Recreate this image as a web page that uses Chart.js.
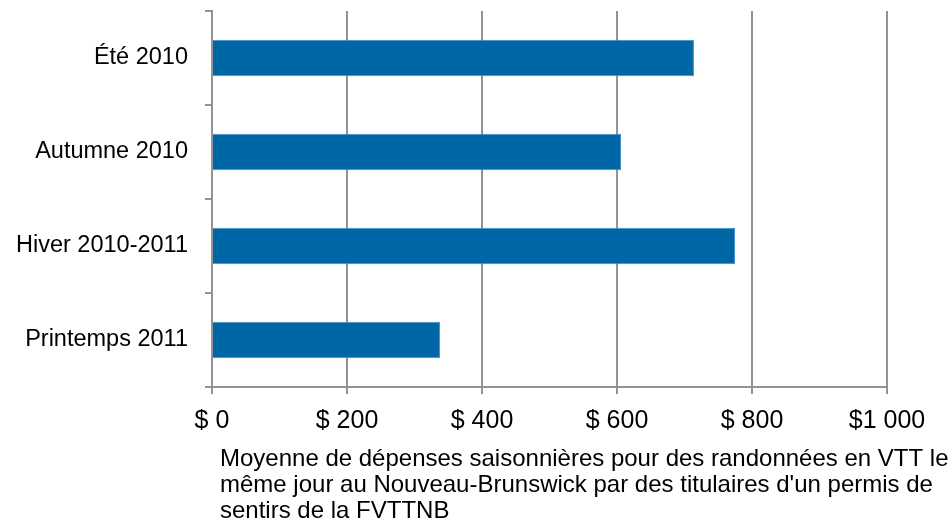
<!DOCTYPE html>
<html>
<head>
<meta charset="utf-8">
<script src="https://cdn.jsdelivr.net/npm/chart.js@4/dist/chart.umd.min.js"></script>
<style>
html,body{margin:0;padding:0;background:#fff;}
#wrap{position:relative;width:951px;height:523px;}
</style>
</head>
<body>
<div id="wrap"><canvas id="c" width="951" height="523"></canvas></div>
<script>
const categories = ['Été 2010', 'Autumne 2010', 'Hiver 2010-2011', 'Printemps 2011'];
const spending = [714, 606, 775, 338];
const tickLabels = ['$ 0', '$ 200', '$ 400', '$ 600', '$ 800', '$1 000'];
const captionLines = [
  'Moyenne de dépenses saisonnières pour des randonnées en VTT le',
  "même jour au Nouveau-Brunswick par des titulaires d'un permis de",
  'sentirs de la FVTTNB'
];

const FONT = "'Liberation Sans', Arial, sans-serif";
const GRID = '#939393';

const captionPlugin = {
  id: 'caption',
  afterDraw(chart) {
    const ctx = chart.ctx;
    const a = chart.chartArea;
    ctx.save();
    ctx.fillStyle = '#000';
    ctx.font = '24px ' + FONT;
    ctx.textAlign = 'left';
    ctx.textBaseline = 'alphabetic';
    captionLines.forEach((t, i) => ctx.fillText(t, a.left + 8, a.bottom + 79 + i * 26));
    ctx.restore();
  }
};

new Chart(document.getElementById('c'), {
  type: 'bar',
  data: {
    labels: categories,
    datasets: [{
      data: spending,
      backgroundColor: '#0067A7',
      borderColor: '#3F8DC6',
      borderWidth: 1,
      borderSkipped: 'start',
      barPercentage: 0.39,
      categoryPercentage: 1
    }]
  },
  options: {
    indexAxis: 'y',
    responsive: false,
    animation: false,
    layout: { padding: { top: 11, right: 64, left: 0, bottom: 0 } },
    plugins: { legend: { display: false }, tooltip: { enabled: false } },
    scales: {
      x: {
        type: 'linear',
        min: 0, max: 1000,
        ticks: {
          stepSize: 200,
          color: '#000',
          font: { family: FONT, size: 25 },
          padding: 12,
          maxRotation: 0,
          callback: (v, i) => tickLabels[i]
        },
        grid: { color: GRID, lineWidth: 2, tickLength: 7, drawTicks: true },
        border: { display: true, color: GRID, width: 2 },
        afterFit: s => { s.height = 136; s.paddingLeft = 0; s.paddingRight = 0; }
      },
      y: {
        type: 'category',
        ticks: {
          color: '#000',
          font: { family: FONT, size: 23.5 },
          padding: 17
        },
        grid: { offset: true, drawOnChartArea: false, color: GRID, lineWidth: 2, tickLength: 7 },
        border: { display: true, color: GRID, width: 2 },
        afterFit: s => { s.width = 212; s.paddingTop = 0; s.paddingBottom = 0; }
      }
    }
  },
  plugins: [captionPlugin]
});
</script>
</body>
</html>
